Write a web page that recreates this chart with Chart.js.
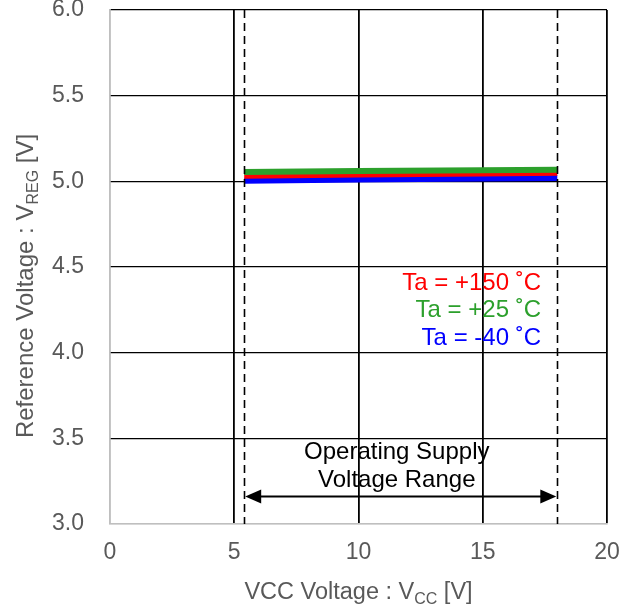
<!DOCTYPE html>
<html>
<head>
<meta charset="utf-8">
<script src="https://cdn.jsdelivr.net/npm/chart.js@4"></script>
<style>
  html, body { margin: 0; padding: 0; background: #fff; }
  #wrap { width: 635px; height: 610px; }
</style>
</head>
<body>
<div id="wrap"><canvas id="chart" width="635" height="610"></canvas></div>
<script>
const vcc = [5.4, 10, 15, 18];
const vreg150 = [5.033, 5.040, 5.046, 5.050];
const vreg25 = [5.055, 5.060, 5.065, 5.068];
const vregM40 = [5.003, 5.010, 5.016, 5.020];
const xTicks = [0, 5, 10, 15, 20];
const yTicks = [3.0, 3.5, 4.0, 4.5, 5.0, 5.5, 6.0];
const rangeMin = 5.4;
const rangeMax = 18;
const arrowLevel = 3.16;

const FONT = "'Liberation Sans', Arial, sans-serif";
const GRAY = '#595959';

function pts(ys) {
  return vcc.map((x, i) => ({ x: x, y: ys[i] }));
}

// axis titles with subscripts, dashed range lines, arrow, labels
const extras = {
  id: 'extras',
  afterDatasetsDraw(chart) {
    const ctx = chart.ctx;
    const xs = chart.scales.x;
    const ys = chart.scales.y;
    const area = chart.chartArea;
    ctx.save();

    // dashed lines for operating range
    ctx.strokeStyle = '#000';
    ctx.lineWidth = 1.6;
    ctx.setLineDash([8, 5]);
    [rangeMin, rangeMax].forEach(v => {
      const px = Math.round(xs.getPixelForValue(v)) + 0.5;
      ctx.beginPath();
      ctx.moveTo(px, area.top);
      ctx.lineTo(px, area.bottom);
      ctx.stroke();
    });
    ctx.setLineDash([]);

    // double arrow
    const ay = ys.getPixelForValue(arrowLevel);
    const ax1 = xs.getPixelForValue(rangeMin) + 1;
    const ax2 = xs.getPixelForValue(rangeMax) - 1;
    ctx.lineWidth = 2;
    ctx.beginPath();
    ctx.moveTo(ax1 + 10, ay);
    ctx.lineTo(ax2 - 10, ay);
    ctx.stroke();
    ctx.fillStyle = '#000';
    ctx.beginPath();
    ctx.moveTo(ax1, ay);
    ctx.lineTo(ax1 + 16, ay - 7);
    ctx.lineTo(ax1 + 16, ay + 7);
    ctx.closePath();
    ctx.fill();
    ctx.beginPath();
    ctx.moveTo(ax2, ay);
    ctx.lineTo(ax2 - 16, ay - 7);
    ctx.lineTo(ax2 - 16, ay + 7);
    ctx.closePath();
    ctx.fill();

    // range text
    const cx = (ax1 + ax2) / 2 - 4;
    ctx.font = '24px ' + FONT;
    ctx.textAlign = 'center';
    ctx.textBaseline = 'middle';
    ctx.fillStyle = '#000';
    ctx.fillText('Operating Supply', cx, 452);
    ctx.fillText('Voltage Range', cx, 480);

    // legend labels
    ctx.textAlign = 'right';
    const lx = 541;
    ctx.fillStyle = '#ff0000';
    ctx.fillText('Ta = +150 \u02DAC', lx, 283);
    ctx.fillStyle = '#2ca02c';
    ctx.fillText('Ta = +25 \u02DAC', lx, 310);
    ctx.fillStyle = '#0000ff';
    ctx.fillText('Ta = -40 \u02DAC', lx, 338);

    // x axis title
    ctx.fillStyle = GRAY;
    ctx.textAlign = 'left';
    ctx.textBaseline = 'alphabetic';
    const xParts = [['VCC Voltage : V', 23.5, 0], ['CC', 16, 5], [' [V]', 23.5, 0]];
    let w = 0;
    xParts.forEach(p => { ctx.font = p[1] + 'px ' + FONT; w += ctx.measureText(p[0]).width; });
    let x0 = (area.left + area.right) / 2 - w / 2;
    xParts.forEach(p => {
      ctx.font = p[1] + 'px ' + FONT;
      ctx.fillText(p[0], x0, 599 + p[2]);
      x0 += ctx.measureText(p[0]).width;
    });

    // y axis title (rotated)
    ctx.translate(33, 286);
    ctx.rotate(-Math.PI / 2);
    const yParts = [['Reference Voltage : V', 24, 0], ['REG', 16, 5], [' [V]', 24, 0]];
    w = 0;
    yParts.forEach(p => { ctx.font = p[1] + 'px ' + FONT; w += ctx.measureText(p[0]).width; });
    let y0 = -w / 2;
    yParts.forEach(p => {
      ctx.font = p[1] + 'px ' + FONT;
      ctx.fillText(p[0], y0, p[2]);
      y0 += ctx.measureText(p[0]).width;
    });
    ctx.restore();
  }
};

new Chart(document.getElementById('chart'), {
  type: 'scatter',
  data: {
    datasets: [
      { label: 'Ta = +25 °C', data: pts(vreg25), borderColor: '#2ca02c', showLine: true, borderWidth: 6, pointRadius: 0, fill: false },
      { label: 'Ta = +150 °C', data: pts(vreg150), borderColor: '#ff0000', showLine: true, borderWidth: 6, pointRadius: 0, fill: false },
      { label: 'Ta = -40 °C', data: pts(vregM40), borderColor: '#0000ff', showLine: true, borderWidth: 6, pointRadius: 0, fill: false }
    ]
  },
  options: {
    responsive: false,
    animation: false,
    layout: { autoPadding: false, padding: { top: 10, right: 28, left: 0, bottom: 0 } },
    plugins: { legend: { display: false }, tooltip: { enabled: false } },
    scales: {
      x: {
        type: 'linear', min: 0, max: 20,
        afterBuildTicks: s => { s.ticks = xTicks.map(v => ({ value: v })); },
        afterFit: s => { s.height = 86; s.paddingLeft = 0; s.paddingRight = 0; },
        grid: {
          drawTicks: false,
          lineWidth: 1.8,
          color: c => (c.tick && c.tick.value === 0) ? '#bfbfbf' : '#000'
        },
        border: { color: '#bfbfbf', width: 1.5 },
        ticks: { color: GRAY, font: { family: FONT, size: 23 }, padding: 15, maxRotation: 0 }
      },
      y: {
        type: 'linear', min: 3, max: 6,
        afterBuildTicks: s => { s.ticks = yTicks.map(v => ({ value: v })); },
        afterFit: s => { s.width = 110; s.paddingTop = 0; s.paddingBottom = 0; },
        grid: {
          drawTicks: false,
          lineWidth: 1.2,
          color: c => (c.tick && c.tick.value === 3) ? '#bfbfbf' : '#000'
        },
        border: { color: '#bfbfbf', width: 1.5 },
        ticks: { color: GRAY, font: { family: FONT, size: 23 }, padding: 26, callback: v => v.toFixed(1) }
      }
    }
  },
  plugins: [extras]
});
</script>
</body>
</html>
